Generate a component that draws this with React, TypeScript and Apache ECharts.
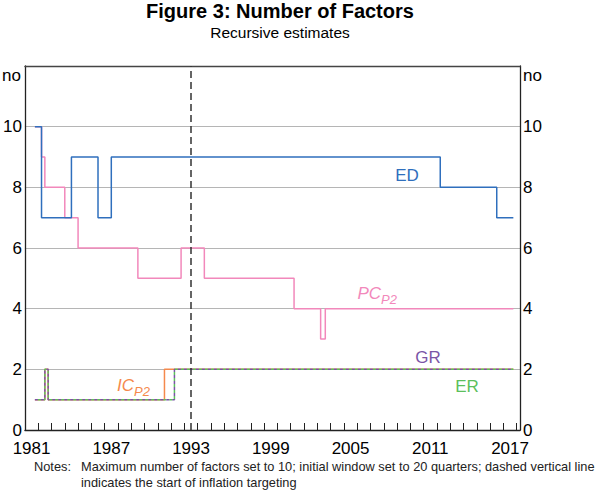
import React, { useEffect, useRef } from 'react';
import * as echarts from 'echarts';

// Step series: [time at which the value changes, new value]
const edX = [1981.75, 1982.25, 1984.5, 1986.5, 1987.5, 2012.25, 2016.5, 2017.75];
const edY = [10, 7, 9, 7, 9, 8, 7, 7];

const pcX = [1981.75, 1982.25, 1982.5, 1984, 1985, 1989.5, 1992.75, 1994.5, 2001.25, 2003.25, 2003.6, 2017.75];
const pcY = [10, 9, 8, 7, 6, 5, 6, 5, 4, 3, 4, 4];

const icX = [1981.75, 1982.5, 1982.75, 1991.5, 2017.75];
const icY = [1, 2, 1, 2, 2];

const grX = [1981.75, 1982.5, 1982.75, 1992.25, 2017.75];
const grY = [1, 2, 1, 2, 2];

const erX = [1981.75, 1982.5, 1982.75, 1992.25, 2017.75];
const erY = [1, 2, 1, 2, 2];

const inflationTargetingStart = 1993.5;

const xLabelYears = [1981, 1987, 1993, 1999, 2005, 2011, 2017];
const xTickYears = [1982, 1983, 1984, 1985, 1986, 1987, 1988, 1989, 1990, 1991, 1992, 1993, 1994, 1995, 1996, 1997, 1998, 1999, 2000, 2001, 2002, 2003, 2004, 2005, 2006, 2007, 2008, 2009, 2010, 2011, 2012, 2013, 2014, 2015, 2016, 2017, 2018];

const FONT = "'Liberation Sans', Arial, sans-serif";
const C_ED = '#2f6fbd';
const C_PC = '#f288bb';
const C_IC = '#f5894d';
const C_GR = '#7a55a6';
const C_ER = '#5cbf5c';

const pairs = (xs: number[], ys: number[]) => xs.map((x, i) => [x, ys[i]]);

export default function App() {
  const ref = useRef<HTMLDivElement>(null);
  useEffect(() => {
    const chart = echarts.init(ref.current!, null, { renderer: 'svg' });
    const lineSeries = (name: string, data: number[][], color: string, extra: any = {}) => ({
      name,
      type: 'line',
      step: 'end',
      symbol: 'none',
      data,
      lineStyle: { color, width: 1.5, ...(extra.lineStyle || {}) },
      z: extra.z ?? 2,
      ...(extra.markLine ? { markLine: extra.markLine } : {}),
    });
    chart.setOption({
      animation: false,
      textStyle: { fontFamily: FONT },
      grid: { left: 23, right: 80, top: 66, bottom: 67, containLabel: false },
      xAxis: [
        {
          type: 'value',
          min: 1981,
          max: 2018.25,
          position: 'bottom',
          axisLine: { show: true, onZero: false, lineStyle: { color: '#222', width: 1.3 } },
          axisTick: { show: true, inside: true, length: 7, customValues: xTickYears, lineStyle: { color: '#222', width: 1 } },
          axisLabel: {
            customValues: xLabelYears.map((y) => y + 0.5),
            formatter: (v: number) => String(Math.floor(v)),
            fontSize: 17,
            color: '#000',
            margin: 10,
            fontFamily: FONT,
          },
          splitLine: { show: false },
        },
        {
          type: 'value',
          min: 1981,
          max: 2018.25,
          position: 'top',
          axisLine: { show: true, onZero: false, lineStyle: { color: '#444', width: 1.3 } },
          axisTick: { show: false },
          axisLabel: { show: false },
          splitLine: { show: false },
        },
      ],
      yAxis: [
        {
          type: 'value',
          min: 0,
          max: 12,
          interval: 2,
          position: 'left',
          axisLine: { show: true, onZero: false, lineStyle: { color: '#222', width: 1.3 } },
          axisTick: { show: false },
          axisLabel: { formatter: (v: number) => (v === 12 ? '' : String(v)), fontSize: 17, color: '#000', margin: 3, fontFamily: FONT },
          splitLine: { show: true, lineStyle: { color: '#b5b5b5', width: 1 } },
        },
        {
          type: 'value',
          min: 0,
          max: 12,
          interval: 2,
          position: 'right',
          axisLine: { show: true, onZero: false, lineStyle: { color: '#222', width: 1.3 } },
          axisTick: { show: false },
          axisLabel: { formatter: (v: number) => (v === 12 ? '' : String(v)), fontSize: 17, color: '#000', margin: 3, fontFamily: FONT },
          splitLine: { show: false },
        },
      ],
      series: [
        lineSeries('PC', pairs(pcX, pcY), C_PC, { z: 2 }),
        lineSeries('IC', pairs(icX, icY), C_IC, { z: 2 }),
        lineSeries('ER', pairs(erX, erY), C_ER, { z: 3, lineStyle: { type: [3, 3], dashOffset: 3 } }),
        lineSeries('GR', pairs(grX, grY), C_GR, { z: 4, lineStyle: { type: [3, 3] } }),
        lineSeries('ED', pairs(edX, edY), C_ED, {
          z: 5,
          markLine: {
            silent: true,
            symbol: 'none',
            label: { show: false },
            lineStyle: { color: '#333', type: [7, 4], width: 1.5 },
            data: [{ xAxis: inflationTargetingStart }],
          },
        }),
      ],
      graphic: [
        { type: 'text', x: 280, y: 11, style: { text: 'Figure 3: Number of Factors', font: `bold 20px ${FONT}`, fill: '#000', align: 'center', verticalAlign: 'middle' } },
        { type: 'text', x: 280, y: 32, style: { text: 'Recursive estimates', font: `15.5px ${FONT}`, fill: '#000', align: 'center', verticalAlign: 'middle' } },
        { type: 'text', x: 21, y: 75, style: { text: 'no', font: `17px ${FONT}`, fill: '#000', align: 'right', verticalAlign: 'middle' } },
        { type: 'text', x: 523, y: 75, style: { text: 'no', font: `17px ${FONT}`, fill: '#000', align: 'left', verticalAlign: 'middle' } },
        { type: 'text', x: 407, y: 175, style: { text: 'ED', font: `17px ${FONT}`, fill: C_ED, align: 'center', verticalAlign: 'middle' } },
        { type: 'text', x: 381, y: 293, style: { text: 'PC', font: `italic 17px ${FONT}`, fill: C_PC, align: 'right', verticalAlign: 'middle' } },
        { type: 'text', x: 381, y: 299, style: { text: 'P2', font: `italic 13px ${FONT}`, fill: C_PC, align: 'left', verticalAlign: 'middle' } },
        { type: 'text', x: 428, y: 357, style: { text: 'GR', font: `17px ${FONT}`, fill: C_GR, align: 'center', verticalAlign: 'middle' } },
        { type: 'text', x: 467, y: 386, style: { text: 'ER', font: `17px ${FONT}`, fill: C_ER, align: 'center', verticalAlign: 'middle' } },
        { type: 'text', x: 134, y: 385, style: { text: 'IC', font: `italic 17px ${FONT}`, fill: C_IC, align: 'right', verticalAlign: 'middle' } },
        { type: 'text', x: 134, y: 391, style: { text: 'P2', font: `italic 13px ${FONT}`, fill: C_IC, align: 'left', verticalAlign: 'middle' } },
        { type: 'text', x: 34, y: 466, style: { text: 'Notes:', font: `12.8px ${FONT}`, fill: '#222', align: 'left', verticalAlign: 'middle' } },
        { type: 'text', x: 81, y: 466, style: { text: 'Maximum number of factors set to 10; initial window set to 20 quarters; dashed vertical line', font: `12.8px ${FONT}`, fill: '#222', align: 'left', verticalAlign: 'middle' } },
        { type: 'text', x: 81, y: 482, style: { text: 'indicates the start of inflation targeting', font: `12.8px ${FONT}`, fill: '#222', align: 'left', verticalAlign: 'middle' } },
      ],
    });
    return () => chart.dispose();
  }, []);
  return <div ref={ref} style={{ position: 'absolute', left: 0, top: 0, width: 600, height: 497 }} />;
}
